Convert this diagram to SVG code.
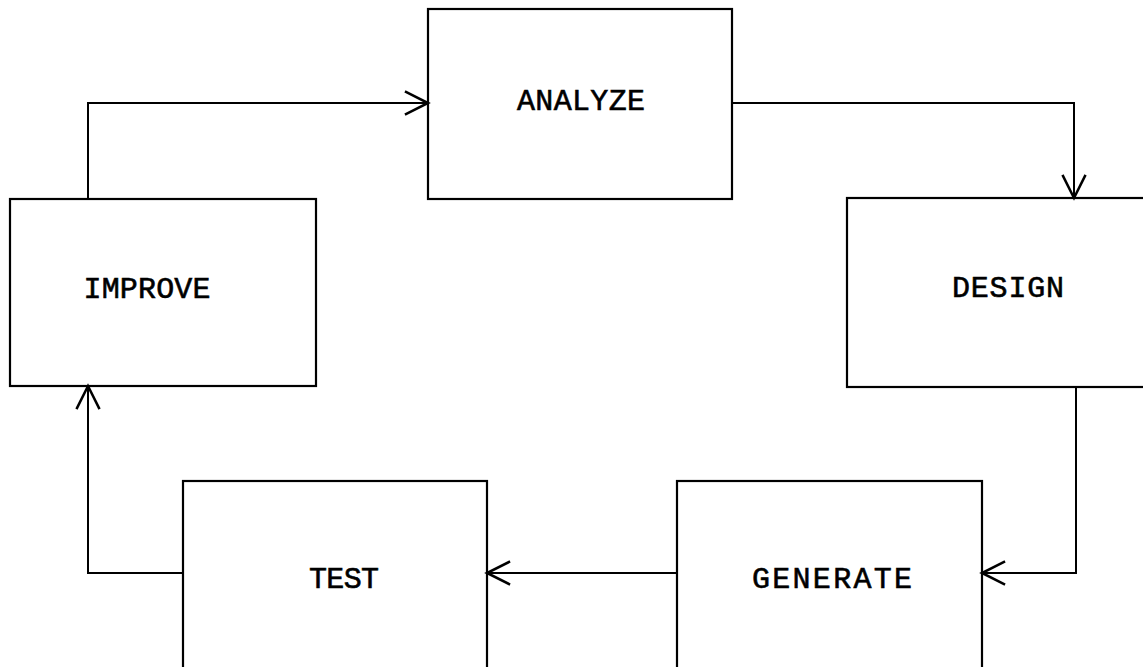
<svg xmlns="http://www.w3.org/2000/svg" width="1143" height="667" viewBox="0 0 1143 667">
  <style>
    .box { fill: #ffffff; stroke: #000000; stroke-width: 2.2; }
    .label { font-family: "Liberation Mono", "DejaVu Sans Mono", monospace; font-size: 30px; fill: #000000; stroke: #000000; stroke-width: 0.6; text-anchor: middle; }
    .edge { fill: none; stroke: #000000; stroke-width: 2; marker-end: url(#openArrow); }
  </style>
  <defs>
    <marker id="openArrow" markerUnits="userSpaceOnUse" markerWidth="30" markerHeight="30" viewBox="-22 -12 26 24" refX="0" refY="0" orient="auto" overflow="visible">
      <path d="M-20,-10 L0,0 L-20,10" fill="none" stroke="#000000" stroke-width="2.2"/>
    </marker>
  </defs>
  <rect width="1143" height="667" fill="#ffffff"/>

  <!-- process boxes -->
  <g id="node-analyze">
    <rect class="box" x="428" y="9" width="304" height="190"/>
    <text class="label" x="581" y="110" textLength="128" lengthAdjust="spacing">ANALYZE</text>
  </g>
  <g id="node-design">
    <rect class="box" x="847" y="198" width="310" height="189"/>
    <text class="label" x="1008" y="297" textLength="112" lengthAdjust="spacing">DESIGN</text>
  </g>
  <g id="node-improve">
    <rect class="box" x="10" y="199" width="306" height="187"/>
    <text class="label" x="147" y="298" textLength="127" lengthAdjust="spacing">IMPROVE</text>
  </g>
  <g id="node-test">
    <rect class="box" x="183" y="481" width="304" height="200"/>
    <text class="label" x="344" y="588" textLength="70" lengthAdjust="spacing">TEST</text>
  </g>
  <g id="node-generate">
    <rect class="box" x="677" y="481" width="305" height="200"/>
    <text class="label" x="832" y="588" textLength="160" lengthAdjust="spacing">GENERATE</text>
  </g>

  <!-- cycle connectors -->
  <g id="connectors">
    <path class="edge" d="M88,199 V103 H428"/>
    <path class="edge" d="M732,103 H1074 V198"/>
    <path class="edge" d="M1076,387 V573 H982"/>
    <path class="edge" d="M677,573 H487"/>
    <path class="edge" d="M183,573 H88 V386"/>
  </g>
</svg>
